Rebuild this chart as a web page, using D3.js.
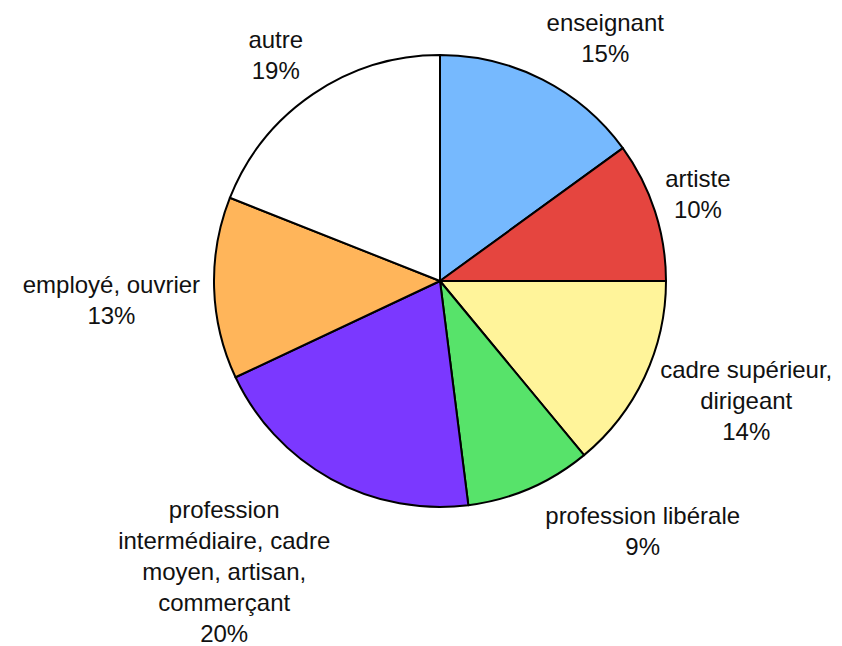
<!DOCTYPE html>
<html>
<head>
<meta charset="utf-8">
<script src="https://cdn.jsdelivr.net/npm/d3@7"></script>
<style>
  html, body { margin: 0; padding: 0; background: #fff; }
  svg { display: block; }
  text { font-family: "Liberation Sans", Arial, Helvetica, sans-serif; font-size: 24px; fill: #111; }
</style>
</head>
<body>
<svg id="chart" width="842" height="646"></svg>
<script>
// Category labels (each entry is a list of text lines) and their shares in percent
const categories = [
  ["enseignant"],
  ["artiste"],
  ["cadre supérieur,", "dirigeant"],
  ["profession libérale"],
  ["profession", "intermédiaire, cadre", "moyen, artisan,", "commerçant"],
  ["employé, ouvrier"],
  ["autre"]
];
const shares = [15, 10, 14, 9, 20, 13, 19];
const sliceColors = ["#76B9FE", "#E5453F", "#FFF49A", "#57E36A", "#7B38FF", "#FFB55A", "#FFFFFF"];

const width = 842, height = 646;
const cx = 440, cy = 281, radius = 226;
const lineHeight = 31;
const labelGap = 14;
// Small hand adjustments to keep label blocks clear of each other and the rim
const labelNudge = [[3, 0], [-3, 5], [3, -21], [30, 1], [2, 5], [0, 10], [-2, 1]];

const data = shares.map((v, i) => ({ lines: categories[i], value: v, color: sliceColors[i] }));

const svg = d3.select("#chart");
const g = svg.append("g").attr("transform", `translate(${cx},${cy})`);

const pie = d3.pie().sort(null).value(d => d.value);
const arc = d3.arc().innerRadius(0).outerRadius(radius);
const arcs = pie(data);

g.selectAll("path.slice")
  .data(arcs)
  .join("path")
  .attr("class", "slice")
  .attr("d", arc)
  .attr("fill", d => d.data.color)
  .attr("stroke", "#000")
  .attr("stroke-width", 2)
  .attr("stroke-linejoin", "round");

// Labels: a block of lines (name + percentage) pushed just outside the rim
const labels = g.selectAll("g.label")
  .data(arcs)
  .join("g")
  .attr("class", "label");

labels.each(function(d, idx) {
  const grp = d3.select(this);
  const lines = d.data.lines.concat([d.data.value + "%"]);
  const t = grp.append("text").attr("text-anchor", "middle");
  lines.forEach((ln, i) => {
    t.append("tspan").attr("x", 0).attr("y", i * lineHeight).text(ln);
  });
  const bb = t.node().getBBox();
  const mid = (d.startAngle + d.endAngle) / 2;
  const s = Math.sin(mid), c = -Math.cos(mid);
  const px = (radius + labelGap) * s;
  const py = (radius + labelGap) * c;
  const clamp = v => Math.max(-1, Math.min(1, v));
  const fx = clamp(s * 2), fy = clamp(c * 2);
  const bcx = px + fx * bb.width / 2;
  const bcy = py + fy * bb.height / 2;
  const dx = bcx - (bb.x + bb.width / 2) + labelNudge[idx][0];
  const dy = bcy - (bb.y + bb.height / 2) + labelNudge[idx][1];
  grp.attr("transform", `translate(${dx},${dy})`);
});
</script>
</body>
</html>
